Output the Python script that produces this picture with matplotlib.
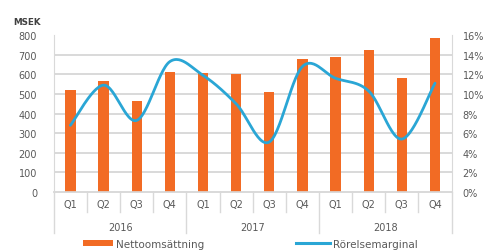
import numpy as np
import matplotlib
matplotlib.use("Agg")
import matplotlib.pyplot as plt
from matplotlib.lines import Line2D
from matplotlib.patches import Patch

# -----------------------------
# Data
# -----------------------------
quarters = ["Q1", "Q2", "Q3", "Q4"] * 3
years = ["2016", "2017", "2018"]
nettoomsattning = [520, 566, 463, 614, 605, 603, 511, 678, 690, 725, 583, 785]
rorelsemarginal = [6.8, 10.9, 7.3, 13.3, 11.9, 9.0, 5.1, 12.8, 11.6, 10.3, 5.4, 11.1]

ORANGE = "#F26B24"
BLUE = "#2AA6D5"
GRID = "#D9D9D9"
TXT = "#595959"


def smooth_curve(x, y, steps=30):
    """Catmull-Rom style smoothing through the points (like Excel smoothed lines)."""
    x = np.asarray(x, float)
    y = np.asarray(y, float)
    px = np.concatenate([[x[0]], x, [x[-1]]])
    py = np.concatenate([[y[0]], y, [y[-1]]])
    xs, ys = [], []
    t = np.linspace(0, 1, steps)
    for i in range(1, len(px) - 2):
        p0 = np.array([px[i - 1], py[i - 1]])
        p1 = np.array([px[i], py[i]])
        p2 = np.array([px[i + 1], py[i + 1]])
        p3 = np.array([px[i + 2], py[i + 2]])
        c1 = p1 + (p2 - p0) / 6.0
        c2 = p2 - (p3 - p1) / 6.0
        b = ((1 - t) ** 3)[:, None] * p1 + (3 * (1 - t) ** 2 * t)[:, None] * c1 \
            + (3 * (1 - t) * t ** 2)[:, None] * c2 + (t ** 3)[:, None] * p2
        xs.extend(b[:, 0])
        ys.extend(b[:, 1])
    return np.array(xs), np.array(ys)


fig = plt.figure(figsize=(4.89, 2.51), dpi=100)
ax = fig.add_axes([0.110, 0.231, 0.8135, 0.625])
ax2 = ax.twinx()

n = len(nettoomsattning)
x = np.arange(n)

# bars
ax.bar(x, nettoomsattning, width=0.31, color=ORANGE, zorder=3)
ax.set_xlim(-0.5, n - 0.5)
ax.set_ylim(0, 800)
ax.set_yticks(range(0, 801, 100))
for v in range(100, 800, 100):
    ax.axhline(v, color=GRID, linewidth=1.4, zorder=0)
ax.tick_params(axis="y", length=0, labelsize=7, labelcolor=TXT, pad=12)
ax.set_xticks([])

# line on secondary axis
sx, sy = smooth_curve(x, rorelsemarginal)
ax2.plot(sx, sy, color=BLUE, linewidth=2.0, zorder=4, solid_capstyle="round")
ax2.set_ylim(0, 16)
ax2.set_yticks(range(0, 17, 2))
ax2.set_yticklabels([f"{v}%" for v in range(0, 17, 2)])
ax2.tick_params(axis="y", length=0, labelsize=7, labelcolor=TXT, pad=8)

for a in (ax, ax2):
    for s in ("top", "left", "right"):
        a.spines[s].set_visible(False)
    a.spines["bottom"].set_color(GRID)
    a.spines["bottom"].set_linewidth(1.2)
ax2.spines["right"].set_visible(True)
ax2.spines["right"].set_color(GRID)
ax.spines["left"].set_visible(True)
ax.spines["left"].set_color(GRID)

# multi-level category axis
trans = ax.get_xaxis_transform()
for i, q in enumerate(quarters):
    ax.text(i, -0.075, q, transform=trans, ha="center", va="center",
            fontsize=7, color=TXT)
for i in range(n + 1):
    edge = i - 0.5
    long = i % 4 == 0
    ax.plot([edge, edge], [0, -0.26 if long else -0.13], transform=trans,
            color=GRID, linewidth=1.0, clip_on=False)
for j, yr in enumerate(years):
    ax.text(j * 4 + 1.5, -0.22, yr, transform=trans, ha="center", va="center",
            fontsize=7, color=TXT)

fig.text(0.027, 0.912, "MSEK", fontsize=6.3, color="#404040", fontweight="bold",
         ha="left", va="center")

# legend, two entries placed separately (fig.legend adds each to the figure)
fig.legend([Patch(facecolor=ORANGE, edgecolor="none")], ["Nettoomsättning"],
           loc="center left", bbox_to_anchor=(0.170, 0.025), frameon=False,
           fontsize=7.5, handlelength=2.9, handleheight=0.45,
           handletextpad=0.3, borderpad=0, borderaxespad=0, labelcolor=TXT)
fig.legend([Line2D([], [], color=BLUE, linewidth=2.2)], ["Rörelsemarginal"],
           loc="center left", bbox_to_anchor=(0.606, 0.025), frameon=False,
           fontsize=7.5, handlelength=3.2, handletextpad=0.3,
           borderpad=0, borderaxespad=0, labelcolor=TXT)

fig.savefig("out.png", dpi=100)
